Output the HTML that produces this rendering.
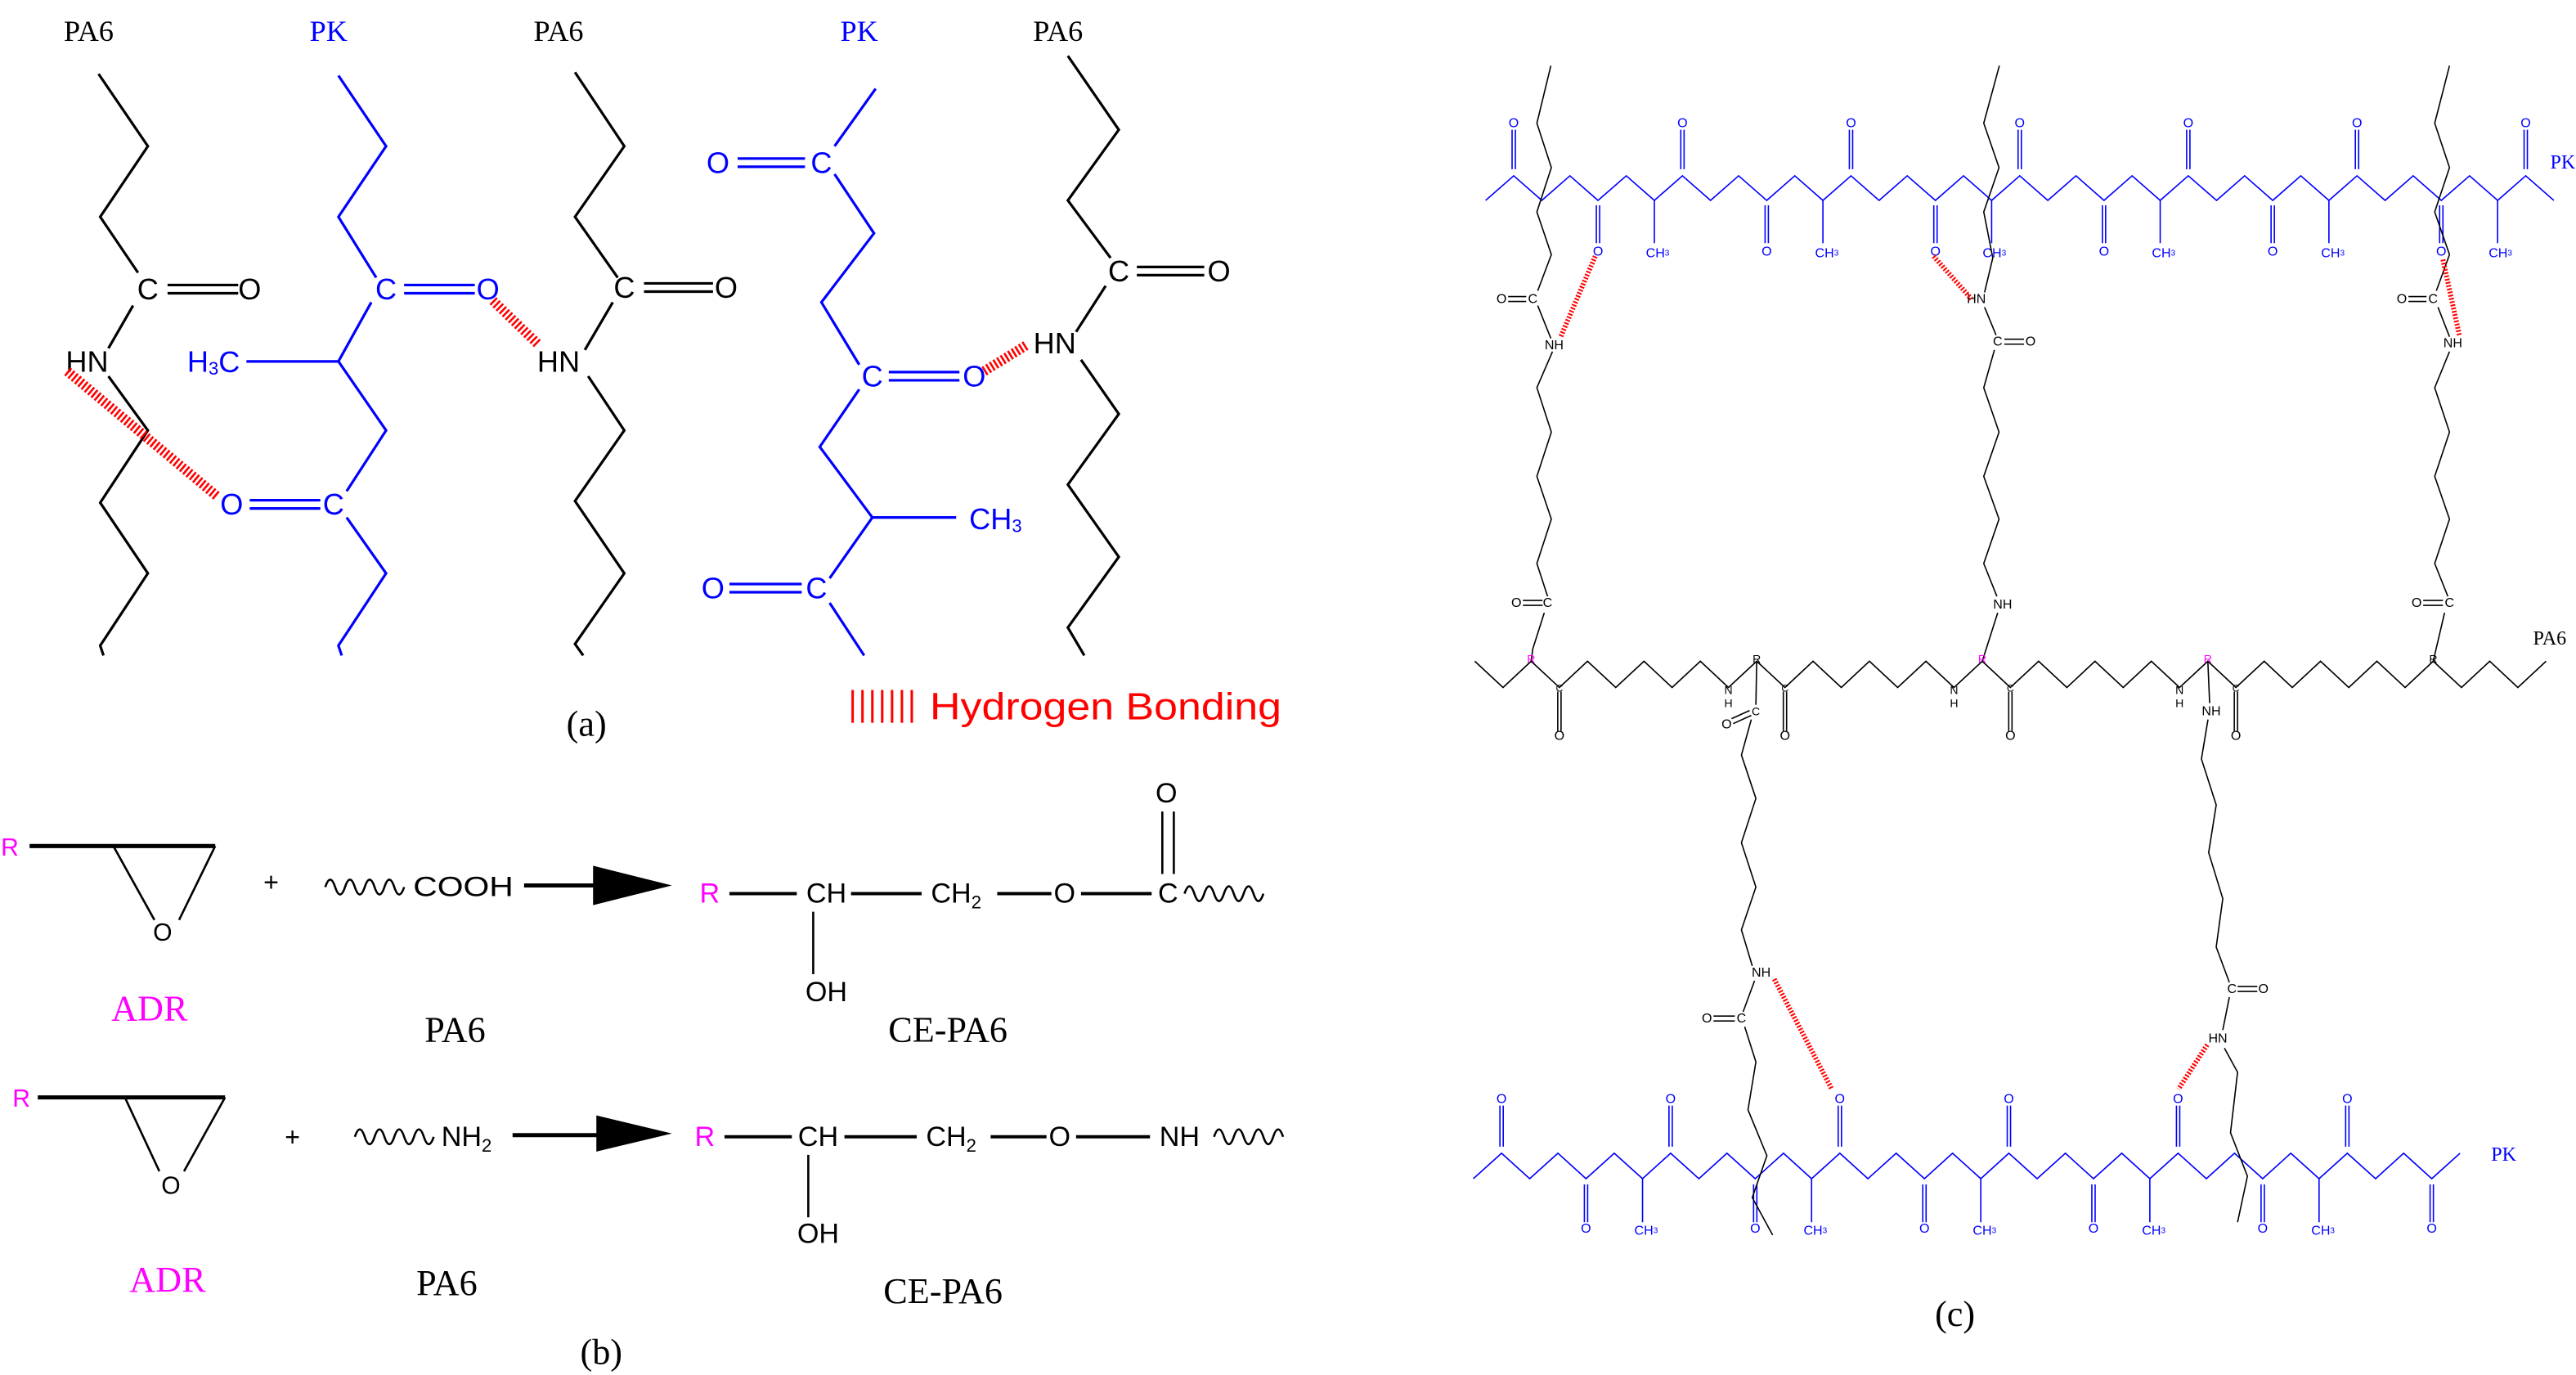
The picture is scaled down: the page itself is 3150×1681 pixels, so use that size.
<!DOCTYPE html>
<html><head><meta charset="utf-8"><style>
html,body{margin:0;padding:0;background:#fff;}
svg{display:block;}
.s{font-family:"Liberation Sans",sans-serif;}
.r{font-family:"Liberation Serif",serif;}
</style></head><body>
<svg width="3150" height="1681" viewBox="0 0 1568 837" preserveAspectRatio="none" xmlns="http://www.w3.org/2000/svg">
<rect width="1568" height="837" fill="#fff"/>

<!-- ===== Panel (a) ===== -->
<g class="r" font-size="18" text-anchor="middle">
<text x="54" y="25">PA6</text><text x="200" y="25" fill="#0000ff">PK</text>
<text x="340" y="25">PA6</text><text x="523" y="25" fill="#0000ff">PK</text>
<text x="644" y="25">PA6</text>
<text x="357" y="448" font-size="22">(a)</text>
</g>
<g stroke="#000" stroke-width="1.6" fill="none">
<polyline points="60,45 90,89 61,132 84,166"/><line x1="81" y1="186" x2="66" y2="212"/>
<polyline points="66,229 90,262 61,306 90,349 61,393 63,399"/>
<line x1="102" y1="173.5" x2="145" y2="173.5"/><line x1="102" y1="178.5" x2="145" y2="178.5"/>
<polyline points="350,44 380,89 350,132 376,169"/><line x1="373" y1="184" x2="356" y2="213"/>
<polyline points="358,229 380,262 350,305 380,349 350,392 355,399"/>
<line x1="392" y1="172.5" x2="434" y2="172.5"/><line x1="392" y1="177.5" x2="434" y2="177.5"/>
<polyline points="650,34 681,79 650,122 676,157"/><line x1="673" y1="174" x2="655" y2="202"/>
<polyline points="658,219 681,252 650,295 681,339 650,382 660,399"/>
<line x1="692" y1="162.5" x2="733" y2="162.5"/><line x1="692" y1="167.5" x2="733" y2="167.5"/>
</g>
<g stroke="#0000ff" stroke-width="1.6" fill="none">
<polyline points="206,46 235,89 206,132 229,169"/>
<line x1="246" y1="173.5" x2="289" y2="173.5"/><line x1="246" y1="178.5" x2="289" y2="178.5"/>
<polyline points="226,184 206,220 235,262 211,299"/><line x1="150" y1="220" x2="206" y2="220"/>
<line x1="152" y1="304.5" x2="195" y2="304.5"/><line x1="152" y1="309.5" x2="195" y2="309.5"/>
<polyline points="211,315 235,349 206,393 208,399"/>
<line x1="533" y1="54" x2="508" y2="89"/>
<line x1="449" y1="96.5" x2="490" y2="96.5"/><line x1="449" y1="101.5" x2="490" y2="101.5"/>
<polyline points="508,106 532,142 500,184 523,222"/>
<line x1="541" y1="226.5" x2="584" y2="226.5"/><line x1="541" y1="231.5" x2="584" y2="231.5"/>
<polyline points="523,237 499,272 531,315 505,352"/><line x1="531" y1="315" x2="582" y2="315"/>
<line x1="444" y1="355.5" x2="488" y2="355.5"/><line x1="444" y1="360.5" x2="488" y2="360.5"/>
<line x1="505" y1="367" x2="526" y2="399"/>
</g>
<g class="s" font-size="18" text-anchor="middle" dominant-baseline="central">
<text x="90" y="176">C</text><text x="152" y="176">O</text><text x="53" y="220">HN</text>
<text x="380" y="175">C</text><text x="442" y="175">O</text><text x="340" y="220">HN</text>
<text x="681" y="165">C</text><text x="742" y="165">O</text><text x="642" y="209">HN</text>
<g fill="#0000ff">
<text x="235" y="176">C</text><text x="297" y="176">O</text>
<text x="130" y="220">H<tspan font-size="11" dy="4">3</tspan><tspan dy="-4">C</tspan></text>
<text x="203" y="307">C</text><text x="141" y="307">O</text>
<text x="500" y="99">C</text><text x="437" y="99">O</text>
<text x="531" y="229">C</text><text x="593" y="229">O</text>
<text x="606" y="316">CH<tspan font-size="11" dy="4">3</tspan></text>
<text x="497" y="358">C</text><text x="434" y="358">O</text>
</g></g>
<g stroke="#ff0000" stroke-width="6" stroke-dasharray="1.3 1.3" fill="none">
<line x1="41" y1="226" x2="132" y2="302"/>
<line x1="300" y1="183" x2="328" y2="210"/>
<line x1="599" y1="226" x2="625" y2="210"/>
</g>
<g fill="#ff0000">
<text class="s" x="566" y="438" font-size="23" textLength="214" lengthAdjust="spacingAndGlyphs">Hydrogen Bonding</text>
<g stroke="#ff0000" stroke-width="1.5"><line x1="519" y1="420" x2="519" y2="440"/><line x1="525" y1="420" x2="525" y2="440"/><line x1="531" y1="420" x2="531" y2="440"/><line x1="537" y1="420" x2="537" y2="440"/><line x1="543" y1="420" x2="543" y2="440"/><line x1="549" y1="420" x2="549" y2="440"/><line x1="555" y1="420" x2="555" y2="440"/></g>
</g>

<!-- ===== Panel (b) ===== -->
<g stroke="#000" stroke-width="1.3" fill="none">
<line x1="18" y1="515" x2="131" y2="515" stroke-width="2.5"/>
<line x1="69" y1="515" x2="94" y2="560"/><line x1="131" y1="515" x2="109" y2="560"/>
<path d="M198,540 q3,-9 6,0 t6,0 t6,0 t6,0 t6,0 t6,0 t6,0 t6,0"/>
<line x1="319" y1="539" x2="366" y2="539" stroke-width="2.5"/>
<line x1="444" y1="544" x2="485" y2="544" stroke-width="2"/><line x1="518" y1="544" x2="561" y2="544" stroke-width="2"/>
<line x1="607" y1="544" x2="640" y2="544" stroke-width="2"/><line x1="658" y1="544" x2="701" y2="544" stroke-width="2"/>
<path d="M721,544 q3,-9 6,0 t6,0 t6,0 t6,0 t6,0 t6,0 t6,0 t6,0"/>
<line x1="707.5" y1="494" x2="707.5" y2="532"/><line x1="714.5" y1="494" x2="714.5" y2="532"/>
<line x1="495" y1="555" x2="495" y2="593"/>
<line x1="23" y1="668" x2="137" y2="668" stroke-width="2.5"/>
<line x1="76" y1="668" x2="97" y2="713"/><line x1="137" y1="668" x2="112" y2="713"/>
<path d="M216,692 q3,-9 6,0 t6,0 t6,0 t6,0 t6,0 t6,0 t6,0 t6,0"/>
<line x1="312" y1="691" x2="366" y2="691" stroke-width="2.5"/>
<line x1="441" y1="692" x2="482" y2="692" stroke-width="2"/><line x1="514" y1="692" x2="558" y2="692" stroke-width="2"/>
<line x1="603" y1="692" x2="637" y2="692" stroke-width="2"/><line x1="655" y1="692" x2="700" y2="692" stroke-width="2"/>
<path d="M739,692 q3,-9 6,0 t6,0 t6,0 t6,0 t6,0 t6,0 t6,0"/>
<line x1="492" y1="703" x2="492" y2="741"/>
</g>
<polygon points="361,527 409,539 361,551" fill="#000"/>
<polygon points="363,679 409,690 363,701" fill="#000"/>
<g class="s" font-size="17" text-anchor="middle" dominant-baseline="central">
<text x="6" y="516" fill="#ff00ff" font-size="15">R</text>
<text x="99" y="568" font-size="15">O</text>
<text x="165" y="537" font-size="16">+</text>
<text x="282" y="540" textLength="61" lengthAdjust="spacingAndGlyphs">COOH</text>
<text x="432" y="544" fill="#ff00ff">R</text>
<text x="503" y="544">CH</text>
<text x="582" y="544">CH<tspan font-size="11" dy="5">2</tspan></text>
<text x="648" y="544">O</text><text x="711" y="544">C</text><text x="710" y="483">O</text>
<text x="503" y="604">OH</text>
<text x="13" y="669" fill="#ff00ff" font-size="15">R</text>
<text x="104" y="722" font-size="15">O</text>
<text x="178" y="692" font-size="16">+</text>
<text x="284" y="692">NH<tspan font-size="11" dy="5">2</tspan></text>
<text x="429" y="692" fill="#ff00ff">R</text>
<text x="498" y="692">CH</text>
<text x="579" y="692">CH<tspan font-size="11" dy="5">2</tspan></text>
<text x="645" y="692">O</text><text x="718" y="692">NH</text>
<text x="498" y="751">OH</text>
</g>
<g class="r" font-size="22" text-anchor="middle" dominant-baseline="central">
<text x="91" y="614" fill="#ff00ff">ADR</text><text x="277" y="627">PA6</text><text x="577" y="627">CE-PA6</text>
<text x="102" y="779" fill="#ff00ff">ADR</text><text x="272" y="781">PA6</text><text x="574" y="786">CE-PA6</text>
<text x="366" y="823">(b)</text>
</g>

<!-- ===== Panel (c) ===== -->
<g stroke="#0000ff" stroke-width="0.8" fill="none">
<polyline points="904.3,122 921.4,107 938.5,122 955.6,107 972.7,122 989.9,107 1007,122 1024.1,107 1041.2,122 1058.3,107 1075.4,122 1092.5,107 1109.6,122 1126.7,107 1143.8,122 1160.9,107 1178.1,122 1195.2,107 1212.3,122 1229.4,107 1246.5,122 1263.6,107 1280.7,122 1297.8,107 1314.9,122 1332,107 1349.2,122 1366.3,107 1383.4,122 1400.5,107 1417.6,122 1434.7,107 1451.8,122 1468.9,107 1486,122 1503.2,107 1520.3,122 1537.4,107 1554.5,122"/>
<path d="M920.4,79V103M922.4,79V103M1023.1,79V103M1025.1,79V103M1125.7,79V103M1127.7,79V103M1228.4,79V103M1230.4,79V103M1331,79V103M1333,79V103M1433.7,79V103M1435.7,79V103M1536.4,79V103M1538.4,79V103"/>
<path d="M971.7,125V148M973.7,125V148M1074.4,125V148M1076.4,125V148M1177.1,125V148M1179.1,125V148M1279.7,125V148M1281.7,125V148M1382.4,125V148M1384.4,125V148M1485,125V148M1487,125V148"/>
<path d="M1007,122V148M1109.6,122V148M1212.3,122V148M1314.9,122V148M1417.6,122V148M1520.3,122V148"/>
<polyline points="896.8,717.5 914,702 931.1,717.5 948.3,702 965.4,717.5 982.6,702 999.8,717.5 1016.9,702 1034.1,717.5 1051.2,702 1068.4,717.5 1085.6,702 1102.7,717.5 1119.9,702 1137,717.5 1154.2,702 1171.4,717.5 1188.5,702 1205.7,717.5 1222.8,702 1240,717.5 1257.2,702 1274.3,717.5 1291.5,702 1308.6,717.5 1325.8,702 1343,717.5 1360.1,702 1377.3,717.5 1394.4,702 1411.6,717.5 1428.8,702 1446,717.5 1463.1,702 1480.2,717.5 1497.4,702"/>
<path d="M913,673V698M915,673V698M1015.9,673V698M1017.9,673V698M1118.9,673V698M1120.9,673V698M1221.8,673V698M1223.8,673V698M1324.8,673V698M1326.8,673V698M1427.8,673V698M1429.8,673V698"/>
<path d="M964.4,721V744M966.4,721V744M1067.4,721V744M1069.4,721V744M1170.4,721V744M1172.4,721V744M1273.3,721V744M1275.3,721V744M1376.3,721V744M1378.3,721V744M1479.2,721V744M1481.2,721V744"/>
<path d="M999.8,717.5V744M1102.7,717.5V744M1205.7,717.5V744M1308.6,717.5V744M1411.6,717.5V744"/>
</g>
<g class="s" font-size="8" fill="#0000ff" text-anchor="middle" dominant-baseline="central">
<text x="921.4" y="75">O</text><text x="1024.1" y="75">O</text><text x="1126.7" y="75">O</text><text x="1229.4" y="75">O</text><text x="1332" y="75">O</text><text x="1434.7" y="75">O</text><text x="1537.4" y="75">O</text>
<text x="972.7" y="153">O</text><text x="1075.4" y="153">O</text><text x="1178.1" y="153">O</text><text x="1280.7" y="153">O</text><text x="1383.4" y="153">O</text><text x="1486" y="153">O</text>
<text x="1009" y="154">CH<tspan font-size="5">3</tspan></text><text x="1112" y="154">CH<tspan font-size="5">3</tspan></text><text x="1214" y="154">CH<tspan font-size="5">3</tspan></text><text x="1317" y="154">CH<tspan font-size="5">3</tspan></text><text x="1420" y="154">CH<tspan font-size="5">3</tspan></text><text x="1522" y="154">CH<tspan font-size="5">3</tspan></text>
<text x="914" y="669">O</text><text x="1016.9" y="669">O</text><text x="1119.9" y="669">O</text><text x="1222.8" y="669">O</text><text x="1325.8" y="669">O</text><text x="1428.8" y="669">O</text>
<text x="965.4" y="748">O</text><text x="1068.4" y="748">O</text><text x="1171.4" y="748">O</text><text x="1274.3" y="748">O</text><text x="1377.3" y="748">O</text><text x="1480.2" y="748">O</text>
<text x="1002" y="749">CH<tspan font-size="5">3</tspan></text><text x="1105" y="749">CH<tspan font-size="5">3</tspan></text><text x="1208" y="749">CH<tspan font-size="5">3</tspan></text><text x="1311" y="749">CH<tspan font-size="5">3</tspan></text><text x="1414" y="749">CH<tspan font-size="5">3</tspan></text>
</g>
<g stroke="#000" stroke-width="0.8" fill="none">
<polyline points="897.7,402.5 914.9,418.5 932,402.5 949.2,418.5 966.3,402.5 983.5,418.5 1000.7,402.5 1017.8,418.5 1035,402.5 1052.1,418.5 1069.3,402.5 1086.5,418.5 1103.6,402.5 1120.8,418.5 1137.9,402.5 1155.1,418.5 1172.3,402.5 1189.4,418.5 1206.6,402.5 1223.7,418.5 1240.9,402.5 1258.1,418.5 1275.2,402.5 1292.4,418.5 1309.5,402.5 1326.7,418.5 1343.9,402.5 1361,418.5 1378.2,402.5 1395.3,418.5 1412.5,402.5 1429.7,418.5 1446.8,402.5 1464,418.5 1481.1,402.5 1498.3,418.5 1515.5,402.5 1532.6,418.5 1549.8,402.5"/>
<path d="M948.2,421V445M950.2,421V445M1085.5,421V445M1087.5,421V445M1222.7,421V445M1224.7,421V445M1360,421V445M1362,421V445"/>
<polyline points="944,40 935.5,75 944.3,102 935.5,129 944.3,155 936,177"/>
<path d="M918,180.5H929M918,183.5H929"/>
<line x1="936" y1="186" x2="944" y2="206"/>
<polyline points="945,214 935.5,236 944.3,263 935.5,290 944.3,316 935.5,343 942,363"/>
<path d="M927,365.5H939M927,368.5H939"/>
<polyline points="940,373 933,395 932,402.5"/>
<polyline points="1217,40 1207.5,75 1216.8,102 1207.5,129 1213,157 1208,178"/>
<line x1="1208" y1="187" x2="1215" y2="204"/>
<path d="M1220,206.5H1232M1220,209.5H1232"/>
<polyline points="1214,213 1207.5,236 1216.8,263 1207.5,290 1216.8,316 1207.5,343 1215.5,363"/>
<line x1="1216" y1="373" x2="1206.6" y2="402.5"/>
<polyline points="1491,40 1482,75 1491,102 1482,129 1491,155 1483,177"/>
<path d="M1466,180.5H1477M1466,183.5H1477"/>
<line x1="1484" y1="187" x2="1491" y2="205"/>
<polyline points="1491,214 1482,236 1491,263 1482,290 1491,316 1482,343 1490,363"/>
<path d="M1475,365.5H1487M1475,368.5H1487"/>
<line x1="1488" y1="373" x2="1481.1" y2="402.5"/>
<line x1="1069.3" y1="402.5" x2="1068.8" y2="429"/>
<path d="M1054,437.5L1065,432.5M1055,440.5L1066,435.5"/>
<polyline points="1066,438 1060,459.6 1068.8,486 1060,513 1068.8,540 1060,566 1066.6,588"/>
<line x1="1068" y1="597" x2="1061" y2="616"/>
<path d="M1043,618.5H1056M1043,621.5H1056"/>
<polyline points="1062,625 1068.8,646.4 1064,675.6 1075.5,703.5 1066.6,729 1079,751.8"/>
<line x1="1343.9" y1="402.5" x2="1345" y2="428"/>
<polyline points="1344,438 1340,462 1349,490 1344.4,519 1353,547 1349,576.5 1357,598"/>
<path d="M1362,600.5H1374M1362,603.5H1374"/>
<line x1="1357" y1="607" x2="1353" y2="627"/>
<polyline points="1354,638 1362,652.7 1357.7,689.5 1368,716 1362,744"/>
</g>
<g class="s" font-size="8" text-anchor="middle" dominant-baseline="central">
<text x="914" y="182">O</text><text x="933" y="182">C</text><text x="946" y="210">NH</text>
<text x="923" y="367">O</text><text x="942" y="367">C</text>
<text x="1203" y="182">HN</text><text x="1216" y="208">C</text><text x="1236" y="208">O</text><text x="1219" y="368">NH</text>
<text x="1462" y="182">O</text><text x="1481" y="182">C</text><text x="1493" y="209">NH</text>
<text x="1471" y="367">O</text><text x="1491" y="367">C</text>
<text x="949.2" y="419" font-size="6">C</text><text x="1086.5" y="419" font-size="6">C</text><text x="1223.7" y="419" font-size="6">C</text><text x="1361" y="419" font-size="6">C</text>
<text x="949.2" y="448">O</text><text x="1086.5" y="448">O</text><text x="1223.7" y="448">O</text><text x="1361" y="448">O</text>
<text x="1052.1" y="420" font-size="7">N</text><text x="1052.1" y="428" font-size="7">H</text>
<text x="1189.4" y="420" font-size="7">N</text><text x="1189.4" y="428" font-size="7">H</text>
<text x="1326.7" y="420" font-size="7">N</text><text x="1326.7" y="428" font-size="7">H</text>
<text x="932" y="401" font-size="7" fill="#ff00ff">R</text><text x="1069.3" y="401" font-size="7">R</text>
<text x="1206.6" y="401" font-size="7" fill="#ff00ff">R</text><text x="1343.9" y="401" font-size="7" fill="#ff00ff">R</text>
<text x="1481.1" y="401" font-size="7">R</text>
<text x="1051" y="441">O</text><text x="1068.8" y="433" font-size="7">C</text>
<text x="1072" y="592">NH</text><text x="1039" y="620">O</text><text x="1060" y="620">C</text>
<text x="1346" y="433">NH</text><text x="1358.6" y="602">C</text><text x="1377.7" y="602">O</text><text x="1350" y="632">HN</text>
</g>
<g stroke="#ff0000" stroke-width="3" stroke-dasharray="1 1" fill="none">
<line x1="971" y1="156" x2="950" y2="205"/>
<line x1="1177" y1="156" x2="1200" y2="182"/>
<line x1="1487" y1="158" x2="1497" y2="204"/>
<line x1="1080" y1="596" x2="1115" y2="663"/>
<line x1="1343.5" y1="636" x2="1326" y2="663"/>
</g>
<g class="r" font-size="12" text-anchor="middle" dominant-baseline="central">
<text x="1560" y="99" fill="#0000ff">PK</text>
<text x="1552" y="389">PA6</text>
<text x="1524" y="703" fill="#0000ff">PK</text>
<text x="1190" y="800" font-size="22">(c)</text>
</g>
</svg>
</body></html>
